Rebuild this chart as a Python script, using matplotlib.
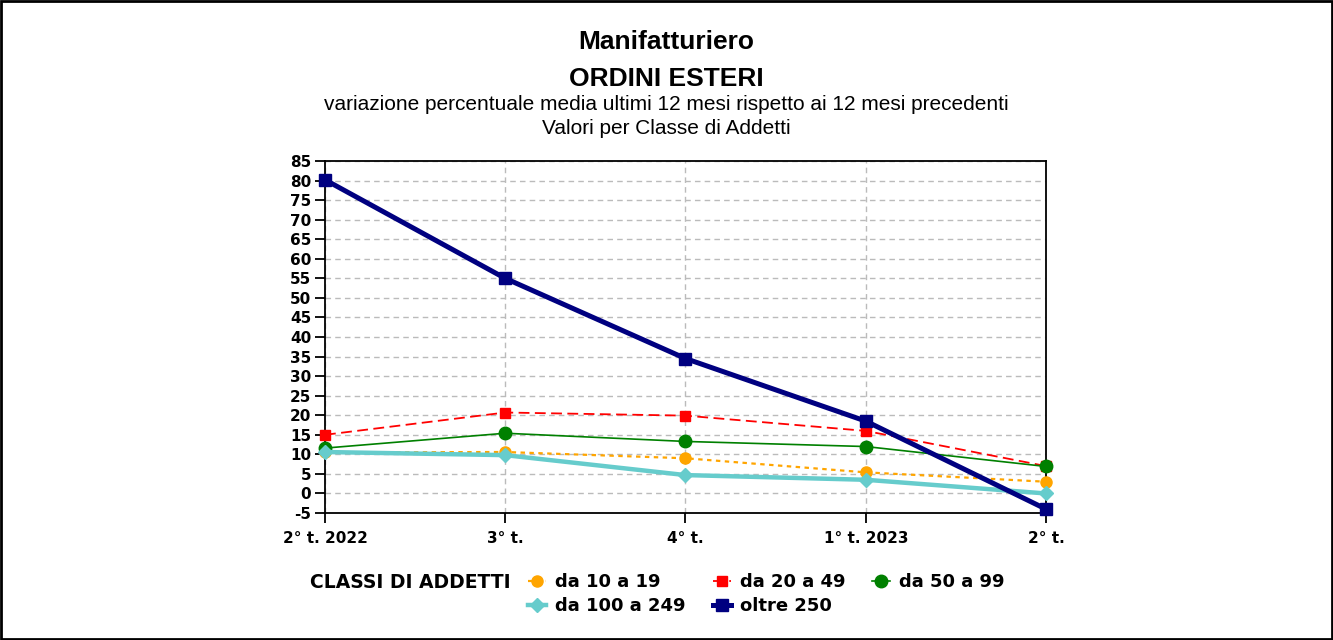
import matplotlib
matplotlib.use("Agg")
from matplotlib import pyplot as plt
from matplotlib.patches import Rectangle

plt.rcParams["axes.unicode_minus"] = False

periods = ["2° t. 2022", "3° t.", "4° t.", "1° t. 2023", "2° t."]
da_10_19 = [10.5, 10.6, 9.0, 5.4, 3.0]
da_20_49 = [15.0, 20.7, 19.9, 16.0, 7.0]
da_50_99 = [11.6, 15.4, 13.3, 12.0, 6.9]
da_100_249 = [10.6, 9.8, 4.7, 3.5, 0.0]
oltre_250 = [80.2, 55.0, 34.5, 18.5, -4.0]
y_ticks = list(range(-5, 90, 5))

fig = plt.figure(figsize=(13.33, 6.4), dpi=100)
fig.patches.append(Rectangle((0.001, 0.002), 0.998, 0.996, transform=fig.transFigure,
                             fill=False, edgecolor="black", linewidth=2))

ax = fig.add_axes([0.2438, 0.1984, 0.5409, 0.55])
x = range(len(periods))

series = [
    (da_10_19, "da 10 a 19", dict(color="#FFA500", linestyle=(0, (2, 2)), linewidth=1.6,
                                  marker="o", markersize=8)),
    (da_20_49, "da 20 a 49", dict(color="#FF0000", linestyle=(0, (6, 3)), linewidth=1.3,
                                  marker="s", markersize=7)),
    (da_50_99, "da 50 a 99", dict(color="#008000", linestyle="-", linewidth=1.2,
                                  marker="o", markersize=9)),
    (da_100_249, "da 100 a 249", dict(color="#66CCCC", linestyle="-", linewidth=3.2,
                                      marker="D", markersize=7)),
    (oltre_250, "oltre 250", dict(color="#000080", linestyle="-", linewidth=3.6,
                                  marker="s", markersize=9)),
]
handles = []
for vals, name, st in series:
    h, = ax.plot(x, vals, label=name, clip_on=False, zorder=3, **st)
    handles.append(h)

ax.set_xlim(0, len(periods) - 1)
ax.set_ylim(-5, 85)
ax.set_yticks(y_ticks)
ax.set_xticks(list(x))
ax.set_xticklabels(periods, fontweight="bold", fontsize=11)
for lab in ax.get_yticklabels():
    lab.set_fontweight("bold")
    lab.set_fontsize(11)
ax.tick_params(axis="both", direction="out", length=7, width=1.3, pad=3)
ax.tick_params(axis="x", pad=6)
ax.grid(True, color="#BBBBBB", linestyle=(0, (4, 3)), linewidth=1)
ax.set_axisbelow(True)
for s in ax.spines.values():
    s.set_linewidth(1.3)

fig.text(0.5, 0.935, "Manifatturiero", ha="center", va="center", fontsize=19,
         fontweight="bold", family="Liberation Sans")
fig.text(0.5, 0.877, "ORDINI ESTERI", ha="center", va="center", fontsize=19,
         fontweight="bold", family="Liberation Sans")
fig.text(0.5, 0.836, "variazione percentuale media ultimi 12 mesi rispetto ai 12 mesi precedenti",
         ha="center", va="center", fontsize=15, family="Liberation Sans")
fig.text(0.5, 0.799, "Valori per Classe di Addetti", ha="center", va="center", fontsize=15,
         family="Liberation Sans")

fig.text(0.2325, 0.090, "CLASSI DI ADDETTI", ha="left", va="center", fontsize=13.5,
         fontweight="bold")
# column-major fill: reorder so rows read 10-19, 20-49, 50-99 / 100-249, oltre 250
order = [0, 3, 1, 4, 2]
leg = fig.legend([handles[i] for i in order], [handles[i].get_label() for i in order],
                 loc="upper left", bbox_to_anchor=(0.396, 0.104), ncol=3, frameon=False,
                 prop=dict(weight="bold", size=13), handlelength=1.0, columnspacing=1.5,
                 handletextpad=0.5, labelspacing=0.3, borderaxespad=0, borderpad=0)

fig.savefig("out.png", dpi=100)
